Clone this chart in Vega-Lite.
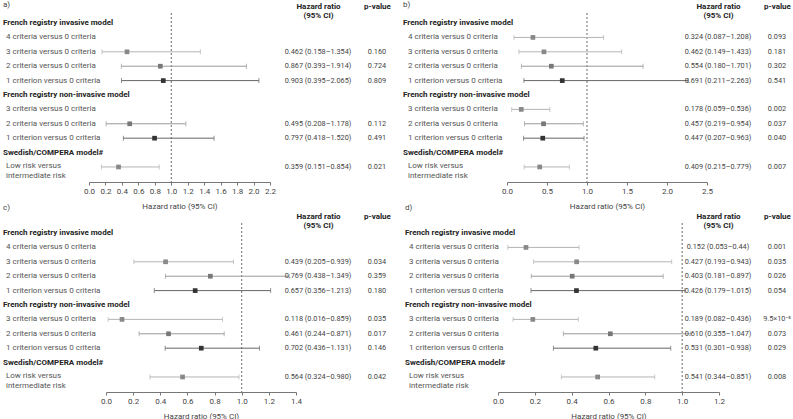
{
  "$schema": "https://vega.github.io/schema/vega-lite/v6.json",
  "padding": {"left": 3, "top": 1, "right": 0, "bottom": 0},
  "autosize": {"type": "pad"},
  "config": {
    "view": {"stroke": null},
    "font": "Roboto",
    "title": {"fontSize": 8, "fontWeight": "normal", "color": "#444", "font": "Roboto"},
    "axis": {"labelFont": "Roboto", "titleFont": "Roboto", "grid": false}
  },
  "datasets": {
    "rows": [
      {"row": "inv_h", "label": "French registry invasive model", "kind": "h"},
      {"row": "inv4", "label": "4 criteria versus 0 criteria", "kind": "i"},
      {"row": "inv3", "label": "3 criteria versus 0 criteria", "kind": "i"},
      {"row": "inv2", "label": "2 criteria versus 0 criteria", "kind": "i"},
      {"row": "inv1", "label": "1 criterion versus 0 criteria", "kind": "i"},
      {"row": "ninv_h", "label": "French registry non-invasive model", "kind": "h"},
      {"row": "ninv3", "label": "3 criteria versus 0 criteria", "kind": "i"},
      {"row": "ninv2", "label": "2 criteria versus 0 criteria", "kind": "i"},
      {"row": "ninv1", "label": "1 criterion versus 0 criteria", "kind": "i"},
      {"row": "swe_h", "label": "Swedish/COMPERA model#", "kind": "h"},
      {"row": "low", "label": "Low risk versus\n intermediate risk", "kind": "m"}
    ],
    "est": [
      {"panel": "a", "row": "inv3", "level": "c3", "hr": 0.462, "lo": 0.158, "hi": 1.354, "hrci": "0.462 (0.158–1.354)", "p": "0.160"},
      {"panel": "a", "row": "inv2", "level": "c2", "hr": 0.867, "lo": 0.393, "hi": 1.914, "hrci": "0.867 (0.393–1.914)", "p": "0.724"},
      {"panel": "a", "row": "inv1", "level": "c1", "hr": 0.903, "lo": 0.395, "hi": 2.065, "hrci": "0.903 (0.395–2.065)", "p": "0.809"},
      {"panel": "a", "row": "ninv2", "level": "c2", "hr": 0.495, "lo": 0.208, "hi": 1.178, "hrci": "0.495 (0.208–1.178)", "p": "0.112"},
      {"panel": "a", "row": "ninv1", "level": "c1", "hr": 0.797, "lo": 0.418, "hi": 1.520, "hrci": "0.797 (0.418–1.520)", "p": "0.491"},
      {"panel": "a", "row": "low", "level": "low", "hr": 0.359, "lo": 0.151, "hi": 0.854, "hrci": "0.359 (0.151–0.854)", "p": "0.021"},
      {"panel": "b", "row": "inv4", "level": "c4", "hr": 0.324, "lo": 0.087, "hi": 1.208, "hrci": "0.324 (0.087–1.208)", "p": "0.093"},
      {"panel": "b", "row": "inv3", "level": "c3", "hr": 0.462, "lo": 0.149, "hi": 1.433, "hrci": "0.462 (0.149–1.433)", "p": "0.181"},
      {"panel": "b", "row": "inv2", "level": "c2", "hr": 0.554, "lo": 0.180, "hi": 1.701, "hrci": "0.554 (0.180–1.701)", "p": "0.302"},
      {"panel": "b", "row": "inv1", "level": "c1", "hr": 0.691, "lo": 0.211, "hi": 2.263, "hrci": "0.691 (0.211–2.263)", "p": "0.541"},
      {"panel": "b", "row": "ninv3", "level": "c3", "hr": 0.178, "lo": 0.059, "hi": 0.536, "hrci": "0.178 (0.059–0.536)", "p": "0.002"},
      {"panel": "b", "row": "ninv2", "level": "c2", "hr": 0.457, "lo": 0.219, "hi": 0.954, "hrci": "0.457 (0.219–0.954)", "p": "0.037"},
      {"panel": "b", "row": "ninv1", "level": "c1", "hr": 0.447, "lo": 0.207, "hi": 0.963, "hrci": "0.447 (0.207–0.963)", "p": "0.040"},
      {"panel": "b", "row": "low", "level": "low", "hr": 0.409, "lo": 0.215, "hi": 0.779, "hrci": "0.409 (0.215–0.779)", "p": "0.007"},
      {"panel": "c", "row": "inv3", "level": "c3", "hr": 0.439, "lo": 0.205, "hi": 0.939, "hrci": "0.439 (0.205–0.939)", "p": "0.034"},
      {"panel": "c", "row": "inv2", "level": "c2", "hr": 0.769, "lo": 0.438, "hi": 1.349, "hrci": "0.769 (0.438–1.349)", "p": "0.359"},
      {"panel": "c", "row": "inv1", "level": "c1", "hr": 0.657, "lo": 0.356, "hi": 1.213, "hrci": "0.657 (0.356–1.213)", "p": "0.180"},
      {"panel": "c", "row": "ninv3", "level": "c3", "hr": 0.118, "lo": 0.016, "hi": 0.859, "hrci": "0.118 (0.016–0.859)", "p": "0.035"},
      {"panel": "c", "row": "ninv2", "level": "c2", "hr": 0.461, "lo": 0.244, "hi": 0.871, "hrci": "0.461 (0.244–0.871)", "p": "0.017"},
      {"panel": "c", "row": "ninv1", "level": "c1", "hr": 0.702, "lo": 0.436, "hi": 1.131, "hrci": "0.702 (0.436–1.131)", "p": "0.146"},
      {"panel": "c", "row": "low", "level": "low", "hr": 0.564, "lo": 0.324, "hi": 0.980, "hrci": "0.564 (0.324–0.980)", "p": "0.042"},
      {"panel": "d", "row": "inv4", "level": "c4", "hr": 0.152, "lo": 0.053, "hi": 0.44, "hrci": "0.152 (0.053–0.44)", "p": "0.001"},
      {"panel": "d", "row": "inv3", "level": "c3", "hr": 0.427, "lo": 0.193, "hi": 0.943, "hrci": "0.427 (0.193–0.943)", "p": "0.035"},
      {"panel": "d", "row": "inv2", "level": "c2", "hr": 0.403, "lo": 0.181, "hi": 0.897, "hrci": "0.403 (0.181–0.897)", "p": "0.026"},
      {"panel": "d", "row": "inv1", "level": "c1", "hr": 0.426, "lo": 0.179, "hi": 1.015, "hrci": "0.426 (0.179–1.015)", "p": "0.054"},
      {"panel": "d", "row": "ninv3", "level": "c3", "hr": 0.189, "lo": 0.082, "hi": 0.436, "hrci": "0.189 (0.082–0.436)", "p": "9.5×10⁻⁵"},
      {"panel": "d", "row": "ninv2", "level": "c2", "hr": 0.610, "lo": 0.355, "hi": 1.047, "hrci": "0.610 (0.355–1.047)", "p": "0.073"},
      {"panel": "d", "row": "ninv1", "level": "c1", "hr": 0.531, "lo": 0.301, "hi": 0.938, "hrci": "0.531 (0.301–0.938)", "p": "0.029"},
      {"panel": "d", "row": "low", "level": "low", "hr": 0.541, "lo": 0.344, "hi": 0.851, "hrci": "0.541 (0.344–0.851)", "p": "0.008"}
    ]
  },
  "spacing": -6,
  "vconcat": [
    {
      "bounds": "flush",
      "spacing": 0,
      "hconcat": [
        {
          "width": 86, "height": 169, "data": {"name": "rows"},
          "title": {"text": "a)", "anchor": "start", "offset": 4},
          "encoding": {"y": {"field": "row", "type": "nominal", "scale": {"type": "point", "padding": 0.87, "align": 0.4, "domain": ["inv_h", "inv4", "inv3", "inv2", "inv1", "ninv_h", "ninv3", "ninv2", "ninv1", "swe_h", "low"]}, "axis": null}, "text": {"field": "label"}, "x": {"value": 0}},
          "layer": [
            {"transform": [{"filter": "datum.kind=='h'"}], "mark": {"type": "text", "align": "left", "baseline": "middle", "fontSize": 8, "fontWeight": "bold", "color": "#222"}},
            {"transform": [{"filter": "datum.kind=='i'"}], "mark": {"type": "text", "align": "left", "baseline": "middle", "fontSize": 8, "color": "#555", "dx": 3}},
            {"transform": [{"filter": "datum.kind=='m'"}], "mark": {"type": "text", "align": "left", "baseline": "top", "dy": -5, "fontSize": 8, "color": "#555", "dx": 3, "lineBreak": "\n", "lineHeight": 10}}
          ]
        },
        {
          "width": 197, "height": 169, "data": {"name": "est"}, "transform": [{"filter": "datum.panel=='a'"}],
          "encoding": {"y": {"field": "row", "type": "nominal", "scale": {"type": "point", "padding": 0.87, "align": 0.4, "domain": ["inv_h", "inv4", "inv3", "inv2", "inv1", "ninv_h", "ninv3", "ninv2", "ninv1", "swe_h", "low"]}, "axis": null}},
          "layer": [
            {"data": {"values": [{}]}, "mark": {"type": "rule", "strokeDash": [2, 2], "color": "#444", "strokeWidth": 0.8}, "encoding": {"y": null, "x": {"datum": 1, "type": "quantitative", "scale": {"domain": [0, 2.2], "range": [0, 181], "nice": false, "zero": false}, "axis": {"values": [0, 0.2, 0.4, 0.6, 0.8, 1.0, 1.2, 1.4, 1.6, 1.8, 2.0, 2.2], "tickCount": 50, "format": ".1f", "title": "Hazard ratio (95% CI)", "labelOverlap": false, "labelFlush": false, "tickSize": 3, "labelFontSize": 8, "titleFontSize": 8, "titleFontWeight": "normal", "labelColor": "#444", "titleColor": "#444", "domainColor": "#777", "tickColor": "#777", "labelPadding": 2, "titlePadding": 7}}}},
            {"mark": {"type": "rule", "strokeWidth": 1}, "encoding": {"x": {"field": "lo", "type": "quantitative"}, "x2": {"field": "hi"}, "color": {"condition": [{"test": "datum.level=='c1'", "value": "#666"}, {"test": "datum.level=='c2'", "value": "#999"}], "value": "#b4b4b4"}}},
            {"mark": {"type": "tick", "size": 5, "thickness": 1}, "encoding": {"x": {"field": "lo", "type": "quantitative"}, "color": {"condition": [{"test": "datum.level=='c1'", "value": "#666"}, {"test": "datum.level=='c2'", "value": "#999"}], "value": "#b4b4b4"}}},
            {"mark": {"type": "tick", "size": 5, "thickness": 1}, "encoding": {"x": {"field": "hi", "type": "quantitative"}, "color": {"condition": [{"test": "datum.level=='c1'", "value": "#666"}, {"test": "datum.level=='c2'", "value": "#999"}], "value": "#b4b4b4"}}},
            {"mark": {"type": "point", "shape": "square", "filled": true, "size": 22, "opacity": 1}, "encoding": {"x": {"field": "hr", "type": "quantitative"}, "color": {"condition": [{"test": "datum.level=='c1'", "value": "#333"}, {"test": "datum.level=='c2'", "value": "#777"}], "value": "#888"}}}
          ]
        },
        {
          "width": 117, "height": 169, "data": {"name": "est"}, "transform": [{"filter": "datum.panel=='a'"}, {"fold": ["hrci", "p"], "as": ["col", "txt"]}],
          "mark": {"type": "text", "fontSize": 7.3, "color": "#444"},
          "encoding": {
            "y": {"field": "row", "type": "nominal", "scale": {"type": "point", "padding": 0.87, "align": 0.4, "domain": ["inv_h", "inv4", "inv3", "inv2", "inv1", "ninv_h", "ninv3", "ninv2", "ninv1", "swe_h", "low"]}, "axis": null},
            "x": {"field": "col", "type": "nominal", "scale": {"type": "point", "padding": 0, "domain": ["hrci", "p"], "range": [32, 91]}, "axis": {"orient": "top", "title": null, "domain": false, "ticks": false, "labelAngle": 0, "labelAlign": "center", "labelBaseline": "top", "labelPadding": 11, "labelLineHeight": 9, "labelFontSize": 8, "labelFontWeight": "bold", "labelColor": "#222", "labelOverlap": false, "labelLimit": 0, "labelBound": false, "labelFlush": false, "labelExpr": "datum.value == 'hrci' ? ['Hazard ratio', '(95% CI)'] : ['p-value', '']"}},
            "text": {"field": "txt"}
          }
        },
        {
          "width": 104, "height": 169, "data": {"name": "rows"},
          "title": {"text": "b)", "anchor": "start", "offset": 4},
          "encoding": {"y": {"field": "row", "type": "nominal", "scale": {"type": "point", "padding": 0.87, "align": 0.4, "domain": ["inv_h", "inv4", "inv3", "inv2", "inv1", "ninv_h", "ninv3", "ninv2", "ninv1", "swe_h", "low"]}, "axis": null}, "text": {"field": "label"}, "x": {"value": 0}},
          "layer": [
            {"transform": [{"filter": "datum.kind=='h'"}], "mark": {"type": "text", "align": "left", "baseline": "middle", "fontSize": 8, "fontWeight": "bold", "color": "#222"}},
            {"transform": [{"filter": "datum.kind=='i'"}], "mark": {"type": "text", "align": "left", "baseline": "middle", "fontSize": 8, "color": "#555", "dx": 5}},
            {"transform": [{"filter": "datum.kind=='m'"}], "mark": {"type": "text", "align": "left", "baseline": "top", "dy": -5, "fontSize": 8, "color": "#555", "dx": 5, "lineBreak": "\n", "lineHeight": 10}}
          ]
        },
        {
          "width": 179, "height": 169, "data": {"name": "est"}, "transform": [{"filter": "datum.panel=='b'"}],
          "encoding": {"y": {"field": "row", "type": "nominal", "scale": {"type": "point", "padding": 0.87, "align": 0.4, "domain": ["inv_h", "inv4", "inv3", "inv2", "inv1", "ninv_h", "ninv3", "ninv2", "ninv1", "swe_h", "low"]}, "axis": null}},
          "layer": [
            {"data": {"values": [{}]}, "mark": {"type": "rule", "strokeDash": [2, 2], "color": "#444", "strokeWidth": 0.8}, "encoding": {"y": null, "x": {"datum": 1, "type": "quantitative", "scale": {"domain": [0, 2.5], "range": [0, 200], "nice": false, "zero": false}, "axis": {"values": [0, 0.5, 1.0, 1.5, 2.0, 2.5], "tickCount": 50, "format": ".1f", "title": "Hazard ratio (95% CI)", "labelOverlap": false, "labelFlush": false, "tickSize": 3, "labelFontSize": 8, "titleFontSize": 8, "titleFontWeight": "normal", "labelColor": "#444", "titleColor": "#444", "domainColor": "#777", "tickColor": "#777", "labelPadding": 2, "titlePadding": 7}}}},
            {"mark": {"type": "rule", "strokeWidth": 1}, "encoding": {"x": {"field": "lo", "type": "quantitative"}, "x2": {"field": "hi"}, "color": {"condition": [{"test": "datum.level=='c1'", "value": "#666"}, {"test": "datum.level=='c2'", "value": "#999"}], "value": "#b4b4b4"}}},
            {"mark": {"type": "tick", "size": 5, "thickness": 1}, "encoding": {"x": {"field": "lo", "type": "quantitative"}, "color": {"condition": [{"test": "datum.level=='c1'", "value": "#666"}, {"test": "datum.level=='c2'", "value": "#999"}], "value": "#b4b4b4"}}},
            {"mark": {"type": "tick", "size": 5, "thickness": 1}, "encoding": {"x": {"field": "hi", "type": "quantitative"}, "color": {"condition": [{"test": "datum.level=='c1'", "value": "#666"}, {"test": "datum.level=='c2'", "value": "#999"}], "value": "#b4b4b4"}}},
            {"mark": {"type": "point", "shape": "square", "filled": true, "size": 22, "opacity": 1}, "encoding": {"x": {"field": "hr", "type": "quantitative"}, "color": {"condition": [{"test": "datum.level=='c1'", "value": "#333"}, {"test": "datum.level=='c2'", "value": "#777"}], "value": "#888"}}}
          ]
        },
        {
          "width": 107, "height": 169, "data": {"name": "est"}, "transform": [{"filter": "datum.panel=='b'"}, {"fold": ["hrci", "p"], "as": ["col", "txt"]}],
          "mark": {"type": "text", "fontSize": 7.3, "color": "#444"},
          "encoding": {
            "y": {"field": "row", "type": "nominal", "scale": {"type": "point", "padding": 0.87, "align": 0.4, "domain": ["inv_h", "inv4", "inv3", "inv2", "inv1", "ninv_h", "ninv3", "ninv2", "ninv1", "swe_h", "low"]}, "axis": null},
            "x": {"field": "col", "type": "nominal", "scale": {"type": "point", "padding": 0, "domain": ["hrci", "p"], "range": [32, 91]}, "axis": {"orient": "top", "title": null, "domain": false, "ticks": false, "labelAngle": 0, "labelAlign": "center", "labelBaseline": "top", "labelPadding": 11, "labelLineHeight": 9, "labelFontSize": 8, "labelFontWeight": "bold", "labelColor": "#222", "labelOverlap": false, "labelLimit": 0, "labelBound": false, "labelFlush": false, "labelExpr": "datum.value == 'hrci' ? ['Hazard ratio', '(95% CI)'] : ['p-value', '']"}},
            "text": {"field": "txt"}
          }
        }
      ]
    },
    {
      "bounds": "flush",
      "spacing": 0,
      "hconcat": [
        {
          "width": 103, "height": 169, "data": {"name": "rows"},
          "title": {"text": "c)", "anchor": "start", "offset": 11},
          "encoding": {"y": {"field": "row", "type": "nominal", "scale": {"type": "point", "padding": 0.87, "align": 0.4, "domain": ["inv_h", "inv4", "inv3", "inv2", "inv1", "ninv_h", "ninv3", "ninv2", "ninv1", "swe_h", "low"]}, "axis": null}, "text": {"field": "label"}, "x": {"value": 0}},
          "layer": [
            {"transform": [{"filter": "datum.kind=='h'"}], "mark": {"type": "text", "align": "left", "baseline": "middle", "fontSize": 8, "fontWeight": "bold", "color": "#222"}},
            {"transform": [{"filter": "datum.kind=='i'"}], "mark": {"type": "text", "align": "left", "baseline": "middle", "fontSize": 8, "color": "#555", "dx": 3}},
            {"transform": [{"filter": "datum.kind=='m'"}], "mark": {"type": "text", "align": "left", "baseline": "top", "dy": -5, "fontSize": 8, "color": "#555", "dx": 3, "lineBreak": "\n", "lineHeight": 10}}
          ]
        },
        {
          "width": 180, "height": 169, "data": {"name": "est"}, "transform": [{"filter": "datum.panel=='c'"}],
          "encoding": {"y": {"field": "row", "type": "nominal", "scale": {"type": "point", "padding": 0.87, "align": 0.4, "domain": ["inv_h", "inv4", "inv3", "inv2", "inv1", "ninv_h", "ninv3", "ninv2", "ninv1", "swe_h", "low"]}, "axis": null}},
          "layer": [
            {"data": {"values": [{}]}, "mark": {"type": "rule", "strokeDash": [2, 2], "color": "#444", "strokeWidth": 0.8}, "encoding": {"y": null, "x": {"datum": 1, "type": "quantitative", "scale": {"domain": [0, 1.4], "range": [0, 190], "nice": false, "zero": false}, "axis": {"values": [0, 0.2, 0.4, 0.6, 0.8, 1.0, 1.2, 1.4], "tickCount": 50, "format": ".1f", "title": "Hazard ratio (95% CI)", "labelOverlap": false, "labelFlush": false, "tickSize": 3, "labelFontSize": 8, "titleFontSize": 8, "titleFontWeight": "normal", "labelColor": "#444", "titleColor": "#444", "domainColor": "#777", "tickColor": "#777", "labelPadding": 2, "titlePadding": 7}}}},
            {"mark": {"type": "rule", "strokeWidth": 1}, "encoding": {"x": {"field": "lo", "type": "quantitative"}, "x2": {"field": "hi"}, "color": {"condition": [{"test": "datum.level=='c1'", "value": "#666"}, {"test": "datum.level=='c2'", "value": "#999"}], "value": "#b4b4b4"}}},
            {"mark": {"type": "tick", "size": 5, "thickness": 1}, "encoding": {"x": {"field": "lo", "type": "quantitative"}, "color": {"condition": [{"test": "datum.level=='c1'", "value": "#666"}, {"test": "datum.level=='c2'", "value": "#999"}], "value": "#b4b4b4"}}},
            {"mark": {"type": "tick", "size": 5, "thickness": 1}, "encoding": {"x": {"field": "hi", "type": "quantitative"}, "color": {"condition": [{"test": "datum.level=='c1'", "value": "#666"}, {"test": "datum.level=='c2'", "value": "#999"}], "value": "#b4b4b4"}}},
            {"mark": {"type": "point", "shape": "square", "filled": true, "size": 22, "opacity": 1}, "encoding": {"x": {"field": "hr", "type": "quantitative"}, "color": {"condition": [{"test": "datum.level=='c1'", "value": "#333"}, {"test": "datum.level=='c2'", "value": "#777"}], "value": "#888"}}}
          ]
        },
        {
          "width": 119, "height": 169, "data": {"name": "est"}, "transform": [{"filter": "datum.panel=='c'"}, {"fold": ["hrci", "p"], "as": ["col", "txt"]}],
          "mark": {"type": "text", "fontSize": 7.3, "color": "#444"},
          "encoding": {
            "y": {"field": "row", "type": "nominal", "scale": {"type": "point", "padding": 0.87, "align": 0.4, "domain": ["inv_h", "inv4", "inv3", "inv2", "inv1", "ninv_h", "ninv3", "ninv2", "ninv1", "swe_h", "low"]}, "axis": null},
            "x": {"field": "col", "type": "nominal", "scale": {"type": "point", "padding": 0, "domain": ["hrci", "p"], "range": [32, 91]}, "axis": {"orient": "top", "title": null, "domain": false, "ticks": false, "labelAngle": 0, "labelAlign": "center", "labelBaseline": "top", "labelPadding": 11, "labelLineHeight": 9, "labelFontSize": 8, "labelFontWeight": "bold", "labelColor": "#222", "labelOverlap": false, "labelLimit": 0, "labelBound": false, "labelFlush": false, "labelExpr": "datum.value == 'hrci' ? ['Hazard ratio', '(95% CI)'] : ['p-value', '']"}},
            "text": {"field": "txt"}
          }
        },
        {
          "width": 93, "height": 169, "data": {"name": "rows"},
          "title": {"text": "d)", "anchor": "start", "offset": 11},
          "encoding": {"y": {"field": "row", "type": "nominal", "scale": {"type": "point", "padding": 0.87, "align": 0.4, "domain": ["inv_h", "inv4", "inv3", "inv2", "inv1", "ninv_h", "ninv3", "ninv2", "ninv1", "swe_h", "low"]}, "axis": null}, "text": {"field": "label"}, "x": {"value": 0}},
          "layer": [
            {"transform": [{"filter": "datum.kind=='h'"}], "mark": {"type": "text", "align": "left", "baseline": "middle", "fontSize": 8, "fontWeight": "bold", "color": "#222"}},
            {"transform": [{"filter": "datum.kind=='i'"}], "mark": {"type": "text", "align": "left", "baseline": "middle", "fontSize": 8, "color": "#555", "dx": 4}},
            {"transform": [{"filter": "datum.kind=='m'"}], "mark": {"type": "text", "align": "left", "baseline": "top", "dy": -5, "fontSize": 8, "color": "#555", "dx": 4, "lineBreak": "\n", "lineHeight": 10}}
          ]
        },
        {
          "width": 188, "height": 169, "data": {"name": "est"}, "transform": [{"filter": "datum.panel=='d'"}],
          "encoding": {"y": {"field": "row", "type": "nominal", "scale": {"type": "point", "padding": 0.87, "align": 0.4, "domain": ["inv_h", "inv4", "inv3", "inv2", "inv1", "ninv_h", "ninv3", "ninv2", "ninv1", "swe_h", "low"]}, "axis": null}},
          "layer": [
            {"data": {"values": [{}]}, "mark": {"type": "rule", "strokeDash": [2, 2], "color": "#444", "strokeWidth": 0.8}, "encoding": {"y": null, "x": {"datum": 1, "type": "quantitative", "scale": {"domain": [0, 1.2], "range": [0, 221], "nice": false, "zero": false}, "axis": {"values": [0, 0.2, 0.4, 0.6, 0.8, 1.0, 1.2], "tickCount": 50, "format": ".1f", "title": "Hazard ratio (95% CI)", "labelOverlap": false, "labelFlush": false, "tickSize": 3, "labelFontSize": 8, "titleFontSize": 8, "titleFontWeight": "normal", "labelColor": "#444", "titleColor": "#444", "domainColor": "#777", "tickColor": "#777", "labelPadding": 2, "titlePadding": 7}}}},
            {"mark": {"type": "rule", "strokeWidth": 1}, "encoding": {"x": {"field": "lo", "type": "quantitative"}, "x2": {"field": "hi"}, "color": {"condition": [{"test": "datum.level=='c1'", "value": "#666"}, {"test": "datum.level=='c2'", "value": "#999"}], "value": "#b4b4b4"}}},
            {"mark": {"type": "tick", "size": 5, "thickness": 1}, "encoding": {"x": {"field": "lo", "type": "quantitative"}, "color": {"condition": [{"test": "datum.level=='c1'", "value": "#666"}, {"test": "datum.level=='c2'", "value": "#999"}], "value": "#b4b4b4"}}},
            {"mark": {"type": "tick", "size": 5, "thickness": 1}, "encoding": {"x": {"field": "hi", "type": "quantitative"}, "color": {"condition": [{"test": "datum.level=='c1'", "value": "#666"}, {"test": "datum.level=='c2'", "value": "#999"}], "value": "#b4b4b4"}}},
            {"mark": {"type": "point", "shape": "square", "filled": true, "size": 22, "opacity": 1}, "encoding": {"x": {"field": "hr", "type": "quantitative"}, "color": {"condition": [{"test": "datum.level=='c1'", "value": "#333"}, {"test": "datum.level=='c2'", "value": "#777"}], "value": "#888"}}}
          ]
        },
        {
          "width": 107, "height": 169, "data": {"name": "est"}, "transform": [{"filter": "datum.panel=='d'"}, {"fold": ["hrci", "p"], "as": ["col", "txt"]}],
          "mark": {"type": "text", "fontSize": 7.3, "color": "#444"},
          "encoding": {
            "y": {"field": "row", "type": "nominal", "scale": {"type": "point", "padding": 0.87, "align": 0.4, "domain": ["inv_h", "inv4", "inv3", "inv2", "inv1", "ninv_h", "ninv3", "ninv2", "ninv1", "swe_h", "low"]}, "axis": null},
            "x": {"field": "col", "type": "nominal", "scale": {"type": "point", "padding": 0, "domain": ["hrci", "p"], "range": [32, 91]}, "axis": {"orient": "top", "title": null, "domain": false, "ticks": false, "labelAngle": 0, "labelAlign": "center", "labelBaseline": "top", "labelPadding": 11, "labelLineHeight": 9, "labelFontSize": 8, "labelFontWeight": "bold", "labelColor": "#222", "labelOverlap": false, "labelLimit": 0, "labelBound": false, "labelFlush": false, "labelExpr": "datum.value == 'hrci' ? ['Hazard ratio', '(95% CI)'] : ['p-value', '']"}},
            "text": {"field": "txt"}
          }
        }
      ]
    }
  ]
}
